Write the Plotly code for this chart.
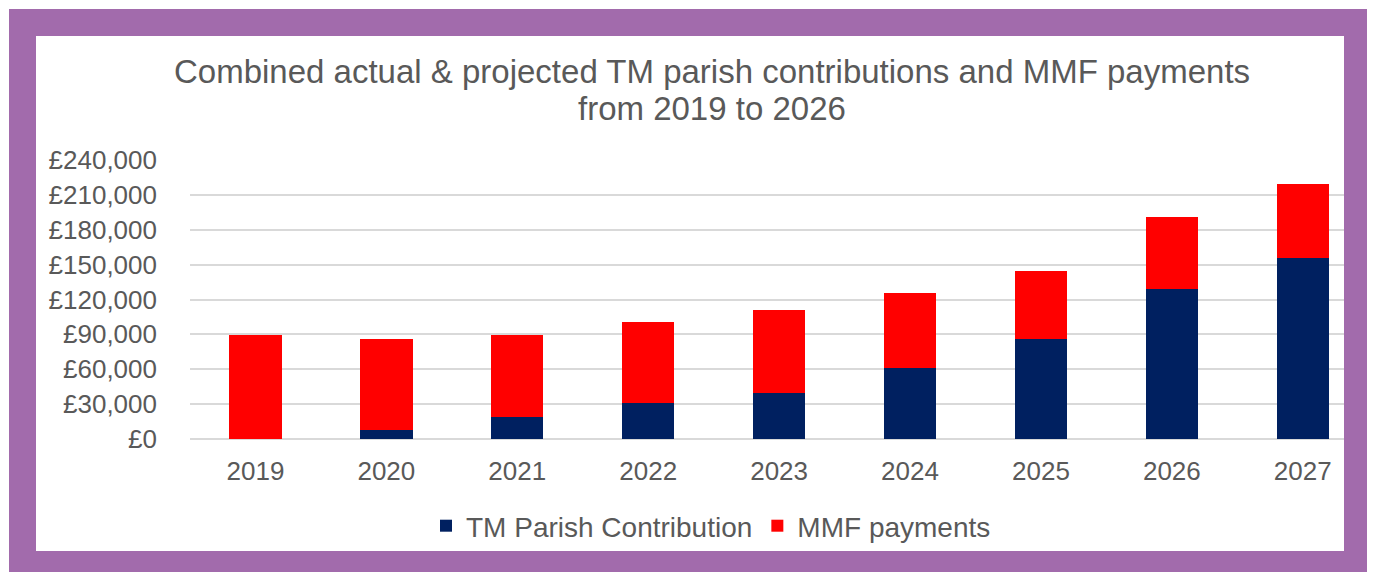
import plotly.graph_objects as go

years = ["2019", "2020", "2021", "2022", "2023", "2024", "2025", "2026", "2027"]
tm_parish = [0, 7700, 18700, 30700, 39800, 61100, 86000, 128800, 155400]
mmf_payments = [89500, 78300, 71000, 69700, 71200, 64200, 58800, 62200, 64200]
y_ticks = [0, 30000, 60000, 90000, 120000, 150000, 180000, 210000, 240000]
y_tick_labels = ["£0", "£30,000", "£60,000", "£90,000", "£120,000", "£150,000",
                 "£180,000", "£210,000", "£240,000"]
title_lines = ["Combined actual & projected TM parish contributions and MMF payments",
               "from 2019 to 2026"]

# page has an 8px body margin; work in reference-pixel coordinates and shift
OFF = 8
W, H = 1375 - OFF, 572 - OFF
L, T = 190 - OFF, 160 - OFF
R = W - (1344 - OFF)
B = H - (439 - OFF)
PW, PH = W - L - R, H - T - B

def px(x):
    return (x - OFF - L) / PW

def py(y):
    return (H - B - (y - OFF)) / PH

FONT = "Liberation Sans, Arial, sans-serif"
GREY = "#595959"
PURPLE = "#A26BAC"

fig = go.Figure()
fig.add_trace(go.Bar(x=years, y=tm_parish, name="TM Parish Contribution",
                     marker=dict(color="#002060", line=dict(width=0)), width=0.40))
fig.add_trace(go.Bar(x=years, y=mmf_payments, name="MMF payments",
                     marker=dict(color="#FF0000", line=dict(width=0)), width=0.40))

shapes = [
    dict(type="rect", xref="paper", yref="paper", x0=px(9), x1=px(1371), y0=py(580), y1=py(9),
         fillcolor=PURPLE, line=dict(width=0), layer="below"),
    dict(type="rect", xref="paper", yref="paper", x0=px(36), x1=px(1344), y0=py(551), y1=py(36),
         fillcolor="white", line=dict(width=0), layer="below"),
]

annotations = [
    dict(text=title_lines[0], xref="paper", yref="paper", x=px(712), y=py(72),
         xanchor="center", yanchor="middle", showarrow=False,
         font=dict(family=FONT, size=33, color=GREY)),
    dict(text=title_lines[1], xref="paper", yref="paper", x=px(712), y=py(108),
         xanchor="center", yanchor="middle", showarrow=False,
         font=dict(family=FONT, size=33, color=GREY)),
]

fig.update_layout(
    width=W, height=H,
    margin=dict(l=L, r=R, t=T, b=B, pad=0),
    barmode="stack",
    paper_bgcolor="white",
    plot_bgcolor="rgba(0,0,0,0)",
    shapes=shapes,
    annotations=annotations,
    showlegend=True,
    legend=dict(orientation="h", x=px(711), xanchor="center", y=py(526), yanchor="middle",
                font=dict(family=FONT, size=28, color=GREY), traceorder="normal",
                bgcolor="rgba(0,0,0,0)"),
    font=dict(family=FONT, color=GREY),
)
fig.update_xaxes(type="category", range=[-0.5, 8.315], showgrid=False, showline=False,
                 zeroline=False, ticks="", tickfont=dict(family=FONT, size=26, color=GREY),
                 ticklabelstandoff=14)
fig.update_yaxes(range=[0, 240000], tickvals=y_ticks, ticktext=y_tick_labels,
                 showgrid=True, gridcolor="#D9D9D9", gridwidth=2, zeroline=True,
                 zerolinecolor="#D9D9D9", zerolinewidth=2, showline=False, ticks="",
                 tickfont=dict(family=FONT, size=26, color=GREY), ticklabelstandoff=32)

fig.write_html("out.html")
